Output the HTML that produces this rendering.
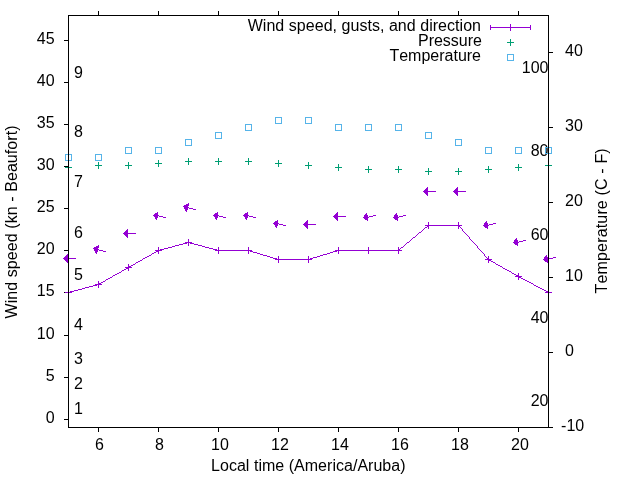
<!DOCTYPE html>
<html lang="en">
<head>
<meta charset="utf-8">
<title>Wind speed, gusts, and direction</title>
<style>
html,body{margin:0;padding:0;background:#fff;}
body{width:640px;height:480px;overflow:hidden;}
svg{display:block;will-change:transform;}
svg text{font-family:"Liberation Sans",sans-serif;font-size:16px;fill:#000;font-kerning:none;}
</style>
</head>
<body>
<svg width="640" height="480" viewBox="0 0 640 480">
<g>
<text x="54.6" y="422.8" text-anchor="end">0</text>
<text x="54.6" y="380.8" text-anchor="end">5</text>
<text x="54.6" y="338.8" text-anchor="end">10</text>
<text x="54.6" y="295.8" text-anchor="end">15</text>
<text x="54.6" y="253.8" text-anchor="end">20</text>
<text x="54.6" y="211.8" text-anchor="end">25</text>
<text x="54.6" y="169.8" text-anchor="end">30</text>
<text x="54.6" y="127.8" text-anchor="end">35</text>
<text x="54.6" y="85.8" text-anchor="end">40</text>
<text x="54.6" y="43.8" text-anchor="end">45</text>
<text x="561.1" y="430.8" text-anchor="start">-10</text>
<text x="565" y="355.8" text-anchor="start">0</text>
<text x="565" y="280.8" text-anchor="start">10</text>
<text x="565" y="205.8" text-anchor="start">20</text>
<text x="565" y="130.8" text-anchor="start">30</text>
<text x="565" y="55.8" text-anchor="start">40</text>
<text x="99.4" y="450" text-anchor="middle">6</text>
<text x="159.4" y="450" text-anchor="middle">8</text>
<text x="219.9" y="450" text-anchor="middle">10</text>
<text x="279.9" y="450" text-anchor="middle">12</text>
<text x="339.9" y="450" text-anchor="middle">14</text>
<text x="399.9" y="450" text-anchor="middle">16</text>
<text x="459.9" y="450" text-anchor="middle">18</text>
<text x="519.9" y="450" text-anchor="middle">20</text>
<text x="74" y="413.8" text-anchor="start">1</text>
<text x="74" y="388.8" text-anchor="start">2</text>
<text x="74" y="363.8" text-anchor="start">3</text>
<text x="74" y="329.8" text-anchor="start">4</text>
<text x="74" y="279.8" text-anchor="start">5</text>
<text x="74" y="237.8" text-anchor="start">6</text>
<text x="74" y="186.8" text-anchor="start">7</text>
<text x="74" y="136.8" text-anchor="start">8</text>
<text x="74" y="77.8" text-anchor="start">9</text>
<text x="548.5" y="405.8" text-anchor="end">20</text>
<text x="548.5" y="322.8" text-anchor="end">40</text>
<text x="548.5" y="239.8" text-anchor="end">60</text>
<text x="548.5" y="155.8" text-anchor="end">80</text>
<text x="548.5" y="72.8" text-anchor="end">100</text>
<text x="308.3" y="471.4" text-anchor="middle" textLength="194.5">Local time (America/Aruba)</text>
<text x="17" y="221.95" text-anchor="middle" transform="rotate(-90 17 221.95)" textLength="193.1">Wind speed (kn - Beaufort)</text>
<text x="607.2" y="220.85" text-anchor="middle" transform="rotate(-90 607.2 220.85)" textLength="145.1">Temperature (C - F)</text>
<text x="481" y="31" text-anchor="end" textLength="233.3">Wind speed, gusts, and direction</text>
<text x="482" y="46" text-anchor="end">Pressure</text>
<text x="481" y="61" text-anchor="end">Temperature</text>
</g>
<g shape-rendering="crispEdges">
<path fill="#000" d="M64 419h5v1h-5zM64 377h5v1h-5zM64 335h5v1h-5zM64 292h5v1h-5zM64 250h5v1h-5zM64 208h5v1h-5zM64 166h5v1h-5zM64 124h5v1h-5zM64 82h5v1h-5zM64 40h5v1h-5zM548 427h5v1h-5zM548 352h5v1h-5zM548 277h5v1h-5zM548 202h5v1h-5zM548 127h5v1h-5zM548 52h5v1h-5zM98 427h1v5h-1zM98 11h1v5h-1zM158 427h1v5h-1zM158 11h1v5h-1zM218 427h1v5h-1zM218 11h1v5h-1zM278 427h1v5h-1zM278 11h1v5h-1zM338 427h1v5h-1zM338 11h1v5h-1zM398 427h1v5h-1zM398 11h1v5h-1zM458 427h1v5h-1zM458 11h1v5h-1zM518 427h1v5h-1zM518 11h1v5h-1z"/>
<path fill="#9400d3" d="M68 292h2v1h-2zM70 291h4v1h-4zM74 290h4v1h-4zM78 289h4v1h-4zM82 288h3v1h-3zM85 287h4v1h-4zM89 286h4v1h-4zM93 285h4v1h-4zM97 284h2v1h-2zM98 284h1v1h-1zM99 283h2v1h-2zM101 282h2v1h-2zM103 281h2v1h-2zM105 280h1v1h-1zM106 279h2v1h-2zM108 278h2v1h-2zM110 277h2v1h-2zM112 276h1v1h-1zM113 275h2v1h-2zM115 274h2v1h-2zM117 273h2v1h-2zM119 272h2v1h-2zM121 271h1v1h-1zM122 270h2v1h-2zM124 269h2v1h-2zM126 268h2v1h-2zM128 267h1v1h-1zM128 267h1v1h-1zM129 266h2v1h-2zM131 265h2v1h-2zM133 264h2v1h-2zM135 263h1v1h-1zM136 262h2v1h-2zM138 261h2v1h-2zM140 260h2v1h-2zM142 259h1v1h-1zM143 258h2v1h-2zM145 257h2v1h-2zM147 256h2v1h-2zM149 255h2v1h-2zM151 254h1v1h-1zM152 253h2v1h-2zM154 252h2v1h-2zM156 251h2v1h-2zM158 250h1v1h-1zM158 250h2v1h-2zM160 249h4v1h-4zM164 248h4v1h-4zM168 247h4v1h-4zM172 246h3v1h-3zM175 245h4v1h-4zM179 244h4v1h-4zM183 243h4v1h-4zM187 242h2v1h-2zM188 242h2v1h-2zM190 243h4v1h-4zM194 244h4v1h-4zM198 245h4v1h-4zM202 246h3v1h-3zM205 247h4v1h-4zM209 248h4v1h-4zM213 249h4v1h-4zM217 250h2v1h-2zM218 250h31v1h-31zM248 250h2v1h-2zM250 251h3v1h-3zM253 252h4v1h-4zM257 253h3v1h-3zM260 254h3v1h-3zM263 255h4v1h-4zM267 256h3v1h-3zM270 257h3v1h-3zM273 258h4v1h-4zM277 259h2v1h-2zM278 259h31v1h-31zM308 259h2v1h-2zM310 258h3v1h-3zM313 257h4v1h-4zM317 256h3v1h-3zM320 255h3v1h-3zM323 254h4v1h-4zM327 253h3v1h-3zM330 252h3v1h-3zM333 251h4v1h-4zM337 250h2v1h-2zM338 250h31v1h-31zM368 250h31v1h-31zM398 250h1v1h-1zM399 249h1v1h-1zM400 248h1v1h-1zM401 247h2v1h-2zM403 246h1v1h-1zM404 245h1v1h-1zM405 244h1v1h-1zM406 243h1v1h-1zM407 242h2v1h-2zM409 241h1v1h-1zM410 240h1v1h-1zM411 239h1v1h-1zM412 238h1v1h-1zM413 237h2v1h-2zM415 236h1v1h-1zM416 235h1v1h-1zM417 234h1v1h-1zM418 233h1v1h-1zM419 232h2v1h-2zM421 231h1v1h-1zM422 230h1v1h-1zM423 229h1v1h-1zM424 228h1v1h-1zM425 227h2v1h-2zM427 226h1v1h-1zM428 225h1v1h-1zM428 225h31v1h-31zM458 225h1v1h-1zM459 226h1v1h-1zM460 227h1v1h-1zM461 228h1v1h-1zM462 229h1v1h-1zM462 230h1v1h-1zM463 231h1v1h-1zM464 232h1v1h-1zM465 233h1v1h-1zM466 234h1v1h-1zM467 235h1v1h-1zM468 236h1v1h-1zM469 237h1v1h-1zM469 238h1v1h-1zM470 239h1v1h-1zM471 240h1v1h-1zM472 241h1v1h-1zM473 242h1v1h-1zM474 243h1v1h-1zM475 244h1v1h-1zM476 245h1v1h-1zM477 246h1v1h-1zM477 247h1v1h-1zM478 248h1v1h-1zM479 249h1v1h-1zM480 250h1v1h-1zM481 251h1v1h-1zM482 252h1v1h-1zM483 253h1v1h-1zM484 254h1v1h-1zM484 255h1v1h-1zM485 256h1v1h-1zM486 257h1v1h-1zM487 258h1v1h-1zM488 259h1v1h-1zM488 259h1v1h-1zM489 260h2v1h-2zM491 261h2v1h-2zM493 262h2v1h-2zM495 263h1v1h-1zM496 264h2v1h-2zM498 265h2v1h-2zM500 266h2v1h-2zM502 267h1v1h-1zM503 268h2v1h-2zM505 269h2v1h-2zM507 270h2v1h-2zM509 271h2v1h-2zM511 272h1v1h-1zM512 273h2v1h-2zM514 274h2v1h-2zM516 275h2v1h-2zM518 276h1v1h-1zM518 276h1v1h-1zM519 277h2v1h-2zM521 278h2v1h-2zM523 279h2v1h-2zM525 280h2v1h-2zM527 281h2v1h-2zM529 282h2v1h-2zM531 283h2v1h-2zM533 284h1v1h-1zM534 285h2v1h-2zM536 286h2v1h-2zM538 287h2v1h-2zM540 288h2v1h-2zM542 289h2v1h-2zM544 290h2v1h-2zM546 291h2v1h-2zM548 292h1v1h-1zM65 292h7v1h-7zM68 289h1v7h-1zM95 284h7v1h-7zM98 281h1v7h-1zM125 267h7v1h-7zM128 264h1v7h-1zM155 250h7v1h-7zM158 247h1v7h-1zM185 242h7v1h-7zM188 239h1v7h-1zM215 250h7v1h-7zM218 247h1v7h-1zM245 250h7v1h-7zM248 247h1v7h-1zM275 259h7v1h-7zM278 256h1v7h-1zM305 259h7v1h-7zM308 256h1v7h-1zM335 250h7v1h-7zM338 247h1v7h-1zM365 250h7v1h-7zM368 247h1v7h-1zM395 250h7v1h-7zM398 247h1v7h-1zM425 225h7v1h-7zM428 222h1v7h-1zM455 225h7v1h-7zM458 222h1v7h-1zM485 259h7v1h-7zM488 256h1v7h-1zM515 276h7v1h-7zM518 273h1v7h-1zM545 292h7v1h-7zM548 289h1v7h-1zM67 258h9v1h-9zM63 258h5v1h-5zM64 257h4v1h-4zM64 259h4v1h-4zM65 256h3v1h-3zM65 260h3v1h-3zM66 255h2v1h-2zM66 261h2v1h-2zM67 254h1v1h-1zM67 262h1v1h-1zM97 249h2v1h-2zM99 250h4v1h-4zM103 251h3v1h-3zM93 248h5v1h-5zM94 247h5v1h-5zM94 249h4v1h-4zM94 250h4v1h-4zM95 251h3v1h-3zM95 252h2v1h-2zM96 246h3v1h-3zM96 253h1v1h-1zM98 245h1v1h-1zM127 233h9v1h-9zM123 233h5v1h-5zM124 232h4v1h-4zM124 234h4v1h-4zM125 231h3v1h-3zM125 235h3v1h-3zM126 230h2v1h-2zM126 236h2v1h-2zM127 229h1v1h-1zM127 237h1v1h-1zM157 215h2v1h-2zM159 216h4v1h-4zM163 217h3v1h-3zM153 215h5v1h-5zM154 214h4v1h-4zM154 216h4v1h-4zM155 213h3v1h-3zM155 217h3v1h-3zM155 218h2v1h-2zM156 219h1v1h-1zM157 212h1v1h-1zM187 207h2v1h-2zM189 208h4v1h-4zM193 209h3v1h-3zM183 206h5v1h-5zM184 205h5v1h-5zM184 207h4v1h-4zM184 208h4v1h-4zM185 209h3v1h-3zM185 210h2v1h-2zM186 204h3v1h-3zM186 211h1v1h-1zM188 203h1v1h-1zM217 215h2v1h-2zM219 216h4v1h-4zM223 217h3v1h-3zM213 215h5v1h-5zM214 214h4v1h-4zM214 216h4v1h-4zM215 213h3v1h-3zM215 217h3v1h-3zM215 218h2v1h-2zM216 219h1v1h-1zM217 212h1v1h-1zM247 215h2v1h-2zM249 216h4v1h-4zM253 217h3v1h-3zM243 215h5v1h-5zM244 214h4v1h-4zM244 216h4v1h-4zM245 213h3v1h-3zM245 217h3v1h-3zM245 218h2v1h-2zM246 219h1v1h-1zM247 212h1v1h-1zM277 223h2v1h-2zM279 224h4v1h-4zM283 225h3v1h-3zM273 223h5v1h-5zM274 222h4v1h-4zM274 224h4v1h-4zM275 221h3v1h-3zM275 225h3v1h-3zM275 226h2v1h-2zM276 227h1v1h-1zM277 220h1v1h-1zM307 224h9v1h-9zM303 224h5v1h-5zM304 223h4v1h-4zM304 225h4v1h-4zM305 222h3v1h-3zM305 226h3v1h-3zM306 221h2v1h-2zM306 227h2v1h-2zM307 220h1v1h-1zM307 228h1v1h-1zM337 216h9v1h-9zM333 216h5v1h-5zM334 215h4v1h-4zM334 217h4v1h-4zM335 214h3v1h-3zM335 218h3v1h-3zM336 213h2v1h-2zM336 219h2v1h-2zM337 212h1v1h-1zM337 220h1v1h-1zM367 217h2v1h-2zM369 216h4v1h-4zM373 215h3v1h-3zM363 217h5v1h-5zM364 215h4v1h-4zM364 216h4v1h-4zM364 218h4v1h-4zM365 214h2v1h-2zM365 219h3v1h-3zM366 213h1v1h-1zM367 220h1v1h-1zM397 217h2v1h-2zM399 216h4v1h-4zM403 215h3v1h-3zM393 217h5v1h-5zM394 215h4v1h-4zM394 216h4v1h-4zM394 218h4v1h-4zM395 214h2v1h-2zM395 219h3v1h-3zM396 213h1v1h-1zM397 220h1v1h-1zM427 191h9v1h-9zM423 191h5v1h-5zM424 190h4v1h-4zM424 192h4v1h-4zM425 189h3v1h-3zM425 193h3v1h-3zM426 188h2v1h-2zM426 194h2v1h-2zM427 187h1v1h-1zM427 195h1v1h-1zM457 191h9v1h-9zM453 191h5v1h-5zM454 190h4v1h-4zM454 192h4v1h-4zM455 189h3v1h-3zM455 193h3v1h-3zM456 188h2v1h-2zM456 194h2v1h-2zM457 187h1v1h-1zM457 195h1v1h-1zM487 225h2v1h-2zM489 224h4v1h-4zM493 223h3v1h-3zM483 225h5v1h-5zM484 223h4v1h-4zM484 224h4v1h-4zM484 226h4v1h-4zM485 222h2v1h-2zM485 227h3v1h-3zM486 221h1v1h-1zM487 228h1v1h-1zM517 242h2v1h-2zM519 241h4v1h-4zM523 240h3v1h-3zM513 242h5v1h-5zM514 240h4v1h-4zM514 241h4v1h-4zM514 243h4v1h-4zM515 239h2v1h-2zM515 244h3v1h-3zM516 238h1v1h-1zM517 245h1v1h-1zM547 259h2v1h-2zM549 258h4v1h-4zM553 257h3v1h-3zM543 259h5v1h-5zM544 257h4v1h-4zM544 258h4v1h-4zM544 260h4v1h-4zM545 256h2v1h-2zM545 261h3v1h-3zM546 255h1v1h-1zM547 262h1v1h-1z"/>
<path fill="#009e73" d="M65 167h7v1h-7zM68 164h1v7h-1zM95 165h7v1h-7zM98 162h1v7h-1zM125 165h7v1h-7zM128 162h1v7h-1zM155 163h7v1h-7zM158 160h1v7h-1zM185 161h7v1h-7zM188 158h1v7h-1zM215 161h7v1h-7zM218 158h1v7h-1zM245 161h7v1h-7zM248 158h1v7h-1zM275 163h7v1h-7zM278 160h1v7h-1zM305 165h7v1h-7zM308 162h1v7h-1zM335 167h7v1h-7zM338 164h1v7h-1zM365 169h7v1h-7zM368 166h1v7h-1zM395 169h7v1h-7zM398 166h1v7h-1zM425 171h7v1h-7zM428 168h1v7h-1zM455 171h7v1h-7zM458 168h1v7h-1zM485 169h7v1h-7zM488 166h1v7h-1zM515 167h7v1h-7zM518 164h1v7h-1zM545 165h7v1h-7zM548 162h1v7h-1z"/>
<path fill="#56b4e9" d="M65 154h7v1h-7zM65 160h7v1h-7zM65 154h1v7h-1zM71 154h1v7h-1zM95 154h7v1h-7zM95 160h7v1h-7zM95 154h1v7h-1zM101 154h1v7h-1zM125 147h7v1h-7zM125 153h7v1h-7zM125 147h1v7h-1zM131 147h1v7h-1zM155 147h7v1h-7zM155 153h7v1h-7zM155 147h1v7h-1zM161 147h1v7h-1zM185 139h7v1h-7zM185 145h7v1h-7zM185 139h1v7h-1zM191 139h1v7h-1zM215 132h7v1h-7zM215 138h7v1h-7zM215 132h1v7h-1zM221 132h1v7h-1zM245 124h7v1h-7zM245 130h7v1h-7zM245 124h1v7h-1zM251 124h1v7h-1zM275 117h7v1h-7zM275 123h7v1h-7zM275 117h1v7h-1zM281 117h1v7h-1zM305 117h7v1h-7zM305 123h7v1h-7zM305 117h1v7h-1zM311 117h1v7h-1zM335 124h7v1h-7zM335 130h7v1h-7zM335 124h1v7h-1zM341 124h1v7h-1zM365 124h7v1h-7zM365 130h7v1h-7zM365 124h1v7h-1zM371 124h1v7h-1zM395 124h7v1h-7zM395 130h7v1h-7zM395 124h1v7h-1zM401 124h1v7h-1zM425 132h7v1h-7zM425 138h7v1h-7zM425 132h1v7h-1zM431 132h1v7h-1zM455 139h7v1h-7zM455 145h7v1h-7zM455 139h1v7h-1zM461 139h1v7h-1zM485 147h7v1h-7zM485 153h7v1h-7zM485 147h1v7h-1zM491 147h1v7h-1zM515 147h7v1h-7zM515 153h7v1h-7zM515 147h1v7h-1zM521 147h1v7h-1zM545 147h7v1h-7zM545 153h7v1h-7zM545 147h1v7h-1zM551 147h1v7h-1z"/>
<path fill="#9400d3" d="M490 27h41v1h-41zM490 25h1v5h-1zM530 25h1v5h-1zM510 24h1v7h-1z"/>
<path fill="#009e73" d="M507 42h7v1h-7zM510 39h1v7h-1z"/>
<path fill="#56b4e9" d="M507 54h7v1h-7zM507 60h7v1h-7zM507 54h1v7h-1zM513 54h1v7h-1z"/>
<path fill="#000" d="M68 15h481v1h-481zM68 427h481v1h-481zM68 15h1v413h-1zM548 15h1v413h-1z"/>
</g>
</svg>
</body>
</html>
